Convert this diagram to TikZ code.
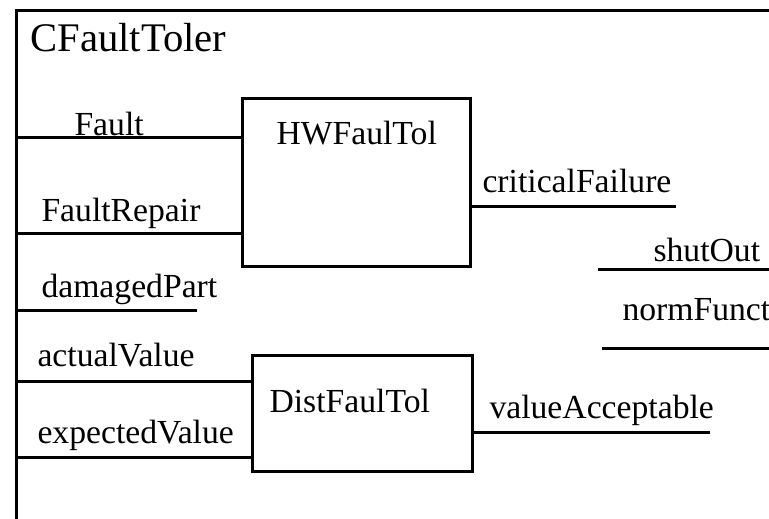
\documentclass[tikz,border=0pt]{standalone}
\usepackage{fontspec}
\setmainfont{Liberation Serif}
\begin{document}
\begin{tikzpicture}[x=1bp,y=-1bp, line width=3bp,
  lbl/.style={anchor=base west, inner sep=0pt, font=\fontsize{33.8pt}{40pt}\selectfont},
  blk/.style={draw, line width=3bp, inner sep=0pt},
  conn/.style={line width=3bp}]
\useasboundingbox (0,0) rectangle (769,519);
% outer container (cut by the picture edge)
\coordinate (otr) at (769,11);
\coordinate (otl) at (16,11);
\coordinate (obl) at (16,519);
\draw (otr) -- (otl) -- (obl);
\node[anchor=base west, inner sep=0pt, font=\fontsize{40.8pt}{48pt}\selectfont] (title) at (29,52) {CFaultToler};
% blocks
\node[blk, minimum width=228bp, minimum height=167bp] (hw) at (356,182.5) {};
\node[lbl] (hwt) at (275,145) {HWFaulTol};
\node[blk, minimum width=220bp, minimum height=116bp] (dist) at (362,413.5) {};
\node[lbl] (distt) at (268,412) {DistFaulTol};
% left ports
\coordinate (pFault) at (16,138);
\coordinate (pRepair) at (16,234);
\coordinate (pDam) at (16,310);
\coordinate (pDamE) at (197,310);
\coordinate (pAct) at (16,381);
\coordinate (pExp) at (16,457);
\draw[conn] (pFault) -- (pFault -| hw.west);
\draw[conn] (pRepair) -- (pRepair -| hw.west);
\draw[conn] (pDam) -- (pDamE);
\draw[conn] (pAct) -- (pAct -| dist.west);
\draw[conn] (pExp) -- (pExp -| dist.west);
\node[lbl] (tFault) at (73,136) {Fault};
\node[lbl] (tRepair) at (40,222) {FaultRepair};
\node[lbl] (tDam) at (40,298) {damagedPart};
\node[lbl] (tAct) at (36,366) {actualValue};
\node[lbl] (tExp) at (36,443) {expectedValue};
% right ports
\coordinate (pCrit) at (676,207);
\coordinate (pVal) at (710,432);
\coordinate (pShutA) at (598,270);
\coordinate (pShutB) at (769,270);
\coordinate (pNormA) at (602,348);
\coordinate (pNormB) at (769,348);
\draw[conn] (pCrit -| hw.east) -- (pCrit);
\draw[conn] (pVal -| dist.east) -- (pVal);
\draw[conn] (pShutA) -- (pShutB);
\draw[conn] (pNormA) -- (pNormB);
\node[lbl] (tCrit) at (481,193) {criticalFailure};
\node[lbl] (tVal) at (488,418) {valueAcceptable};
\node[lbl] (tShut) at (652,262) {shutOut};
\node[lbl] (tNorm) at (621,320) {normFunct};
\end{tikzpicture}
\end{document}
